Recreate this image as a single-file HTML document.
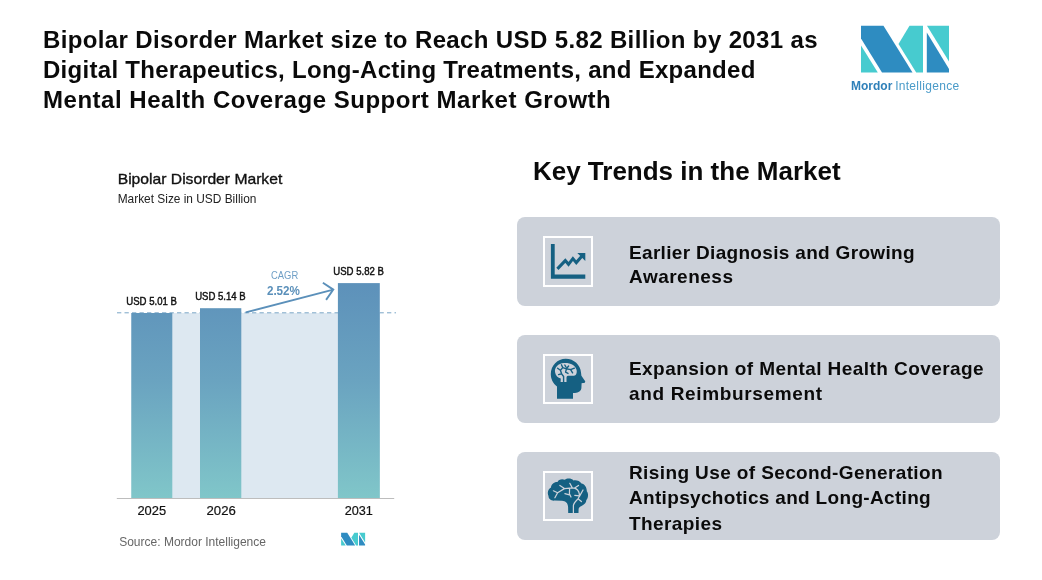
<!DOCTYPE html>
<html lang="en">
<head>
<meta charset="utf-8">
<title>Bipolar Disorder Market</title>
<style>
html,body{margin:0;padding:0;background:#fff;}
body{width:1042px;height:580px;position:relative;overflow:hidden;font-family:"Liberation Sans",sans-serif;color:#000;}
.abs{position:absolute;white-space:nowrap;}
#title{left:43px;top:24.5px;font-weight:bold;font-size:24px;line-height:30px;color:#0a0a0a;}
#t1{letter-spacing:0.37px}#t2{letter-spacing:0.285px}#t3{letter-spacing:0.52px}
#title div{white-space:nowrap;}
#kt{left:532.9px;top:155px;font-weight:bold;font-size:26px;line-height:32px;color:#0a0a0a;}
.card{position:absolute;left:517px;width:483px;height:88px;background:#cdd2da;border-radius:8px;}
.ibox{position:absolute;left:26px;top:19px;width:50px;height:50px;box-sizing:border-box;border:2px solid #fff;}
.ctext{position:absolute;left:112px;font-weight:bold;font-size:19px;line-height:24px;color:#0a0a0a;white-space:nowrap;}
</style>
</head>
<body>
<div id="title" class="abs">
<div id="t1">Bipolar Disorder Market size to Reach USD 5.82 Billion by 2031 as</div>
<div id="t2">Digital Therapeutics, Long-Acting Treatments, and Expanded</div>
<div id="t3">Mental Health Coverage Support Market Growth</div>
</div>

<!-- LOGO -->
<svg class="abs" id="logo" style="left:840px;top:10px" width="140" height="90" viewBox="840 10 140 90">
<polygon points="861,25.8 883.5,25.8 912.5,72.6 882,72.6 861,38.5" fill="#2e8cc1"/>
<polygon points="861,45.5 861,72.6 877.8,72.6" fill="#47cbcf"/>
<polygon points="909.5,25.8 923,25.8 923,72.6 916.2,72.6 898.5,44" fill="#47cbcf"/>
<polygon points="926.8,32.5 926.8,72.6 949,72.6 949,69" fill="#2e8cc1"/>
<polygon points="927,25.8 949,25.8 949,61.5" fill="#47cbcf"/>
<text id="lt" x="851" y="89.6" font-family="Liberation Sans, sans-serif" font-size="12" fill="#4a9bc9"><tspan font-weight="bold" fill="#2f80b9">Mordor</tspan><tspan dx="2.8" id="lt2" letter-spacing="0.3">Intelligence</tspan></text>
</svg>

<!-- CHART -->
<svg class="abs" id="chart" style="left:90px;top:150px" width="330" height="420" viewBox="90 150 330 420" font-family="Liberation Sans, sans-serif">
<defs>
<linearGradient id="bg" x1="0" y1="283" x2="0" y2="498" gradientUnits="userSpaceOnUse">
<stop offset="0" stop-color="#5d91ba"/><stop offset="0.45" stop-color="#6aa3c0"/><stop offset="1" stop-color="#80c6c9"/>
</linearGradient>
</defs>
<text id="ct" x="117.7" y="183.8" font-size="15" fill="#111" stroke="#111" stroke-width="0.35" textLength="164.6" lengthAdjust="spacingAndGlyphs">Bipolar Disorder Market</text>
<text id="cs" x="117.7" y="202.7" font-size="13" fill="#222" textLength="138.7" lengthAdjust="spacingAndGlyphs">Market Size in USD Billion</text>
<rect x="131.3" y="313" width="248.5" height="185" fill="#dde8f1"/>
<line x1="117" y1="312.8" x2="396" y2="312.8" stroke="#7aa6c6" stroke-width="1" stroke-dasharray="4.3 3.2"/>
<rect x="131.3" y="313" width="41" height="185" fill="url(#bg)"/>
<rect x="200" y="308.2" width="41.3" height="189.8" fill="url(#bg)"/>
<rect x="337.9" y="283.1" width="41.9" height="214.9" fill="url(#bg)"/>
<line x1="116.8" y1="498.5" x2="394.2" y2="498.5" stroke="#bdbdbd" stroke-width="1.1"/>
<g font-size="11" fill="#111" stroke="#111" stroke-width="0.45">
<text id="l1" x="126.3" y="304.9" textLength="50.6" lengthAdjust="spacingAndGlyphs">USD 5.01 B</text>
<text id="l2" x="195.2" y="299.9" textLength="50.5" lengthAdjust="spacingAndGlyphs">USD 5.14 B</text>
<text id="l3" x="333.3" y="275.1" textLength="50.6" lengthAdjust="spacingAndGlyphs">USD 5.82 B</text>
</g>
<text id="cg" x="271" y="278.8" font-size="10.5" fill="#6f9fc6" textLength="27.2" lengthAdjust="spacingAndGlyphs">CAGR</text>
<text id="cp" x="266.9" y="294.6" font-size="13" font-weight="bold" fill="#5b90ba" textLength="33.1" lengthAdjust="spacingAndGlyphs">2.52%</text>
<path d="M245.7 312.4 L333.3 289.6 M322.9 282.7 L333.3 289.6 L326.1 299.9" fill="none" stroke="#5b90ba" stroke-width="1.9"/>
<g font-size="13.5" fill="#111" stroke="#111" stroke-width="0.2">
<text id="y1" x="137.4" y="515.1" textLength="28.7" lengthAdjust="spacingAndGlyphs">2025</text>
<text id="y2" x="206.5" y="515.1" textLength="29.3" lengthAdjust="spacingAndGlyphs">2026</text>
<text id="y3" x="344.7" y="515.1" textLength="28.2" lengthAdjust="spacingAndGlyphs">2031</text>
</g>
<text id="src" x="119.2" y="545.6" font-size="13" fill="#666" textLength="146.8" lengthAdjust="spacingAndGlyphs">Source:  Mordor Intelligence</text>
<g transform="translate(341.1,532.8) scale(0.2727) translate(-861,-25.8)">
<polygon points="861,25.8 883.5,25.8 912.5,72.6 882,72.6 861,38.5" fill="#2e8cc1"/>
<polygon points="861,45.5 861,72.6 877.8,72.6" fill="#47cbcf"/>
<polygon points="909.5,25.8 923,25.8 923,72.6 916.2,72.6 898.5,44" fill="#47cbcf"/>
<polygon points="926.8,32.5 926.8,72.6 949,72.6 949,69" fill="#2e8cc1"/>
<polygon points="927,25.8 949,25.8 949,61.5" fill="#47cbcf"/>
</g>
</svg>

<div id="kt" class="abs">Key Trends in the Market</div>

<div class="card" id="c1" style="top:217px;height:88.7px">
  <div class="ibox" style="height:51px"></div>
  <div class="ctext" id="a1" style="top:23.61px;letter-spacing:0.32px">Earlier Diagnosis and Growing</div>
  <div class="ctext" id="a2" style="top:48.01px;letter-spacing:0.5px">Awareness</div>
</div>
<div class="card" id="c2" style="top:335px;height:87.6px">
  <div class="ibox"></div>
  <div class="ctext" id="b1" style="top:22.11px;letter-spacing:0.43px">Expansion of Mental Health Coverage</div>
  <div class="ctext" id="b2" style="top:46.61px;letter-spacing:0.65px">and Reimbursement</div>
</div>
<div class="card" id="c3" style="top:452px;height:87.7px">
  <div class="ibox"></div>
  <div class="ctext" id="d1" style="top:9.21px;letter-spacing:0.39px">Rising Use of Second-Generation</div>
  <div class="ctext" id="d2" style="top:34.41px;letter-spacing:0.32px">Antipsychotics and Long-Acting</div>
  <div class="ctext" id="d3" style="top:59.91px;letter-spacing:0.42px">Therapies</div>
</div>

<!-- ICONS -->
<svg class="abs" id="ic1" style="left:543px;top:236px" width="50" height="51" viewBox="543 236 50 51">
<path d="M550.9 243.9 H554.7 V274.6 H585.3 V278.7 H550.9 Z" fill="#156082"/>
<path d="M557.4 268.9 L565.3 260.6 L568.5 264.3 L572.9 258.6 L576.3 262.6 L581.8 256.3" fill="none" stroke="#156082" stroke-width="3" stroke-linejoin="miter"/>
<path d="M577.3 253 H585.3 V261 Z" fill="#156082"/>
</svg>
<svg class="abs" id="ic2" style="left:543px;top:354px" width="50" height="50" viewBox="543 354 50 50">
<path d="M565.7 358.7 C574 358.7 580.5 365 581 372.5 L581.4 375.7 L585.2 381.3 C585.4 382.6 584.5 383.1 583 383.1 L581.6 383.2 L581.4 388.1 C581.2 391 578.5 392.8 575 392.9 L573 393 L573 398.8 L557 398.8 L557 386.6 C553 383.5 550.8 379 550.8 374 C550.8 365.5 557.5 358.7 565.7 358.7 Z" fill="#156082"/>
<path d="M560.6 381.9 L560.8 378.6 C558 378 555.5 375.5 555 372 C554.5 367.5 558 363.3 564 363 C570 362.6 575.5 365 576.6 370 C577.2 373 576 375.6 574 375.8 L568 375.8 C566.8 376 566.5 377 566.5 378 L566.5 381.9 Z" fill="#cdd2da"/>
<path d="M563.6 381.9 V376.5 L561.6 373.8 L558.6 374.6 M561.6 373.8 L560.4 370.2 L557.6 368.2 M560.4 370.2 L562.8 367.6 L561.4 364.8 M562.8 367.6 L566.4 368.8 L568.6 366 M566.4 368.8 L565.6 372.2 L568 373.4 M566.4 368.8 L570.6 369.6 L574.4 368.2 M570.6 369.6 L572.6 372.8 M564.8 365 L566 367" fill="none" stroke="#156082" stroke-width="1.4" stroke-linecap="round" stroke-linejoin="round"/>
</svg>
<svg class="abs" id="ic3" style="left:543px;top:471px" width="50" height="50" viewBox="543 471 50 50">
<path d="M568.2 513.1 L578.5 513.1 L578.6 509 C578.8 507.5 580 506.8 581.5 506 C584.5 504.8 586.5 502.5 586.3 500 C588.3 498 588.7 493.5 586.8 491.2 C587 487.5 584.5 484 581.5 483.5 C580 480.8 576 479.6 573.5 480.4 C571.5 478.2 567 478 564.8 479.8 C562 478.5 558.5 479.5 557.5 482 C554 481.8 551 484.5 551 487.5 C548 489 547 493 548.5 496 C548.5 499 551.5 501 554.5 500.6 L562 500.7 C565.5 500.8 568 503 568.1 507 Z" fill="#156082"/>
<path d="M573.4 513.1 V505.5 C573.6 503 576 501 578 498.8 C579.6 497 579.6 494 578.6 491.6 C577.4 489.2 574.6 488 572.3 487.9 L564.4 488.6 L557.6 492.8 L554.9 497.8 M557.6 492.8 L553.4 490.8 M564.4 488.6 L559.9 485.4 M572.3 487.9 L569.8 483.3 M574.2 488.2 L578.5 485.4 M569.6 488.4 L569.4 493.7 L571 497 M564.9 493.6 L569.4 494.9 M574.8 495.3 L579.3 495.8 M579.3 496.6 L583 490 M578 498.8 L581.4 501.5" fill="none" stroke="#cdd2da" stroke-width="1.25" stroke-linecap="round" stroke-linejoin="round"/>
</svg>
</body>
</html>
